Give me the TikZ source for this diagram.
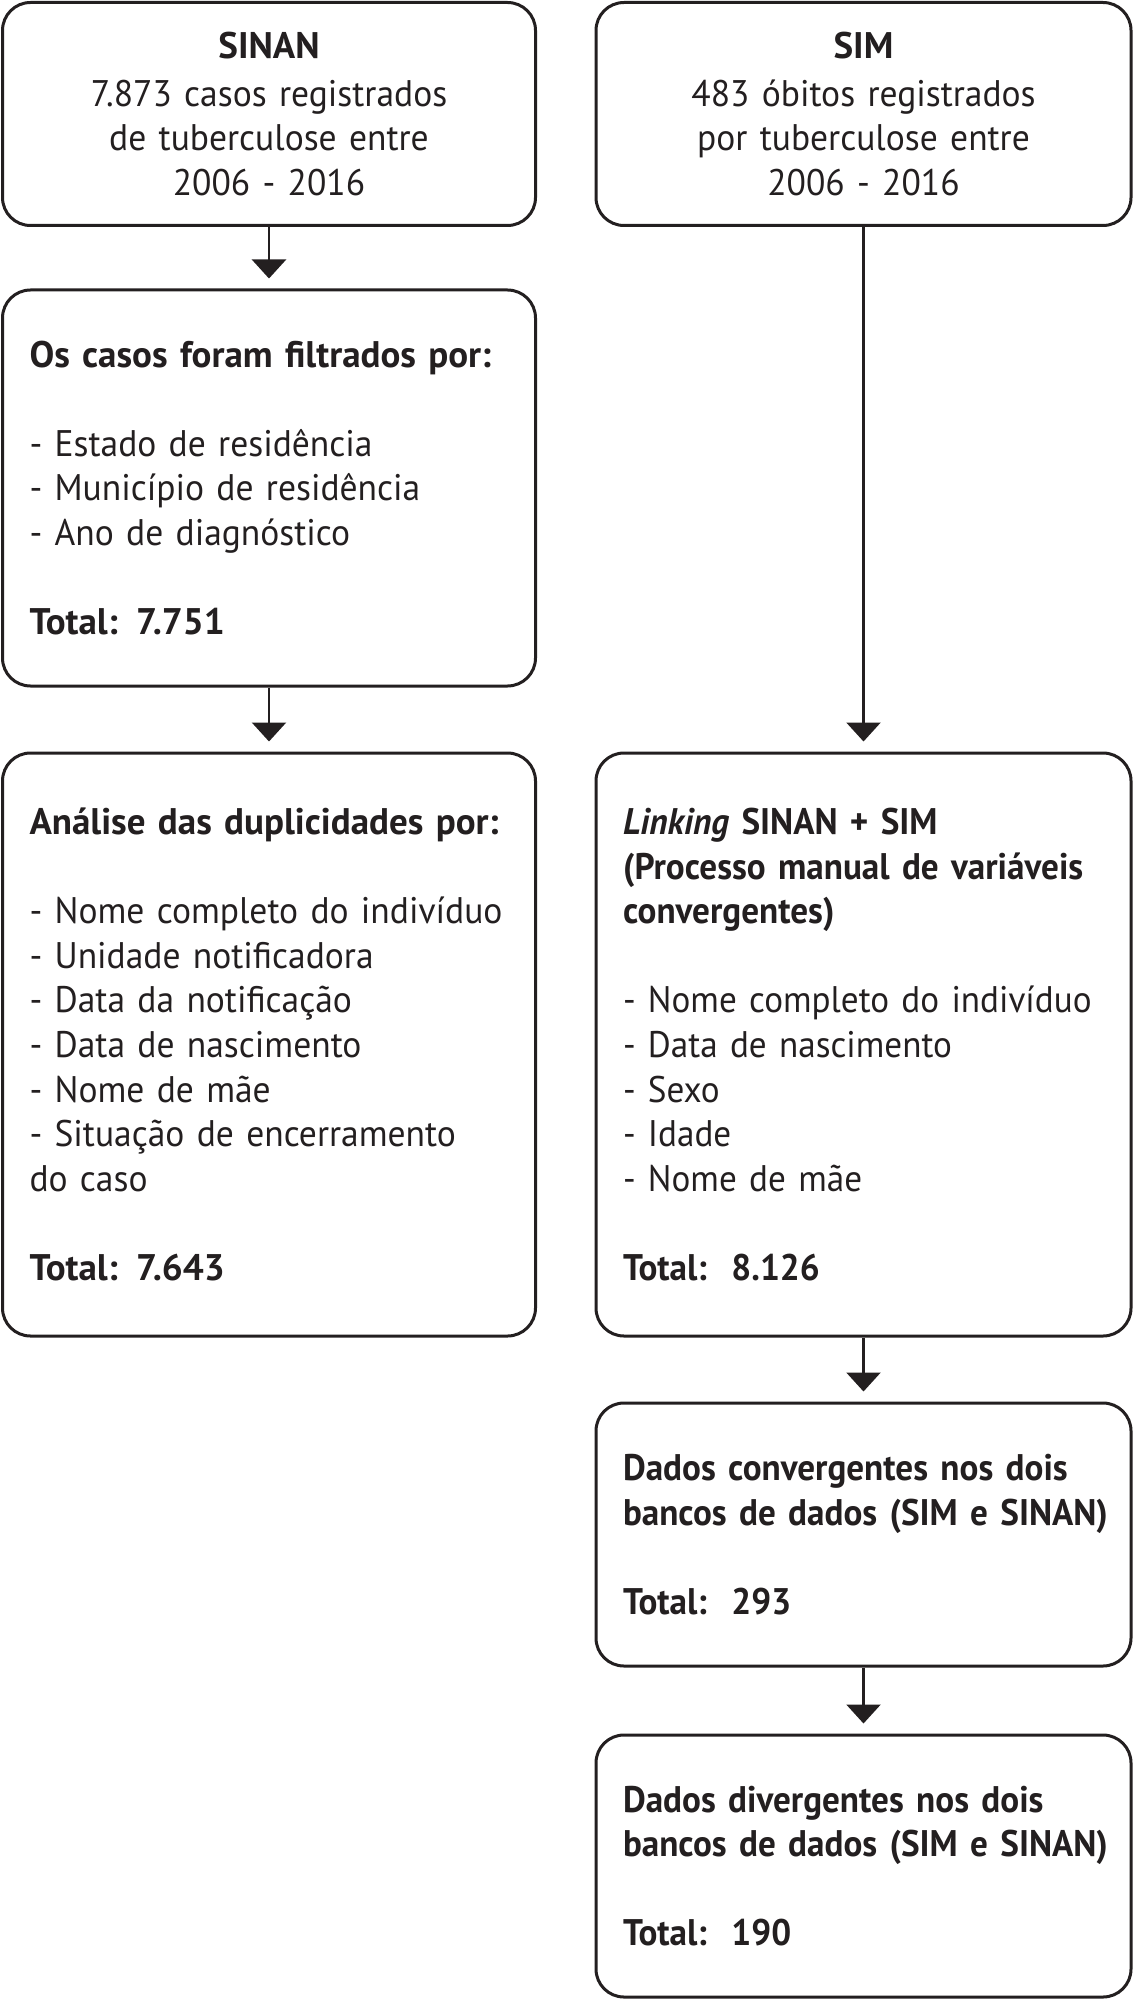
\documentclass[tikz,border=0pt]{standalone}
\usepackage{fontspec}
\setmainfont{PT Sans}[UprightFeatures={FakeStretch=0.96},BoldFeatures={FakeStretch=1.0}]
\newfontfamily\tightfont{PT Sans}[FakeStretch=0.95]
\usetikzlibrary{arrows.meta}
\definecolor{ink}{RGB}{35,31,32}
\begin{document}
\begin{tikzpicture}[x=0.5pt,y=-0.5pt,
  box/.style={draw=ink, text=ink, line width=1.5pt, rounded corners=14pt,
    inner xsep=13.5pt, inner ysep=0pt,
    font=\fontsize{18.5}{22.3}\selectfont},
  lbox/.style={box, text width=239.5pt, align=left},
  rbox/.style={box, text width=240.5pt, align=left,
    font=\tightfont\fontsize{18.5}{22.3}\selectfont},
  cbox/.style={box, text width=239.5pt, align=center},
  arr/.style={draw=ink, line width=1.2pt, shorten >=5pt,
    -{Triangle[width=17pt,length=9.5pt]}}
]
\useasboundingbox (0,0) rectangle (1133,2000);

\node[cbox, minimum height=111.5pt] (sinan) at (269,114)
  {\textbf{SINAN}\\[1.7pt]7.873 casos registrados\\de tuberculose entre\\2006 - 2016};
\node[cbox, text width=240.5pt, minimum height=111.5pt] (sim) at (863.5,114)
  {\textbf{SIM}\\[1.7pt]483 óbitos registrados\\por tuberculose entre\\2006 - 2016};

\node[lbox, minimum height=198pt] (filt) at (269,488)
  {\textbf{Os casos foram filtrados por:}\\[22.3pt]
   - Estado de residência\\- Município de residência\\- Ano de diagnóstico\\[22.3pt]
   \textbf{Total: 7.751}};

\node[lbox, minimum height=291.5pt] (dup) at (269,1044.5)
  {\mbox{\textbf{Análise das duplicidades por:}}\\[22.3pt]
   \mbox{- Nome completo do indivíduo}\\- Unidade notificadora\\- Data da notificação\\
   - Data de nascimento\\- Nome de mãe\\\mbox{- Situação de encerramento}\\do caso\\[22.3pt]
   \textbf{Total: 7.643}};

\node[rbox, minimum height=291.5pt] (link) at (863.5,1044.5)
  {\mbox{\textbf{\textit{Linking} SINAN + SIM}}\\\mbox{\textbf{(Processo manual de variáveis}}\\\textbf{convergentes)}\\[22.3pt]
   \mbox{- Nome completo do indivíduo}\\- Data de nascimento\\- Sexo\\- Idade\\- Nome de mãe\\[22.3pt]
   \textbf{Total:\ \ 8.126}};

\node[rbox, minimum height=131.5pt] (conv) at (863.5,1534.5)
  {\mbox{\textbf{Dados convergentes nos dois}}\\\mbox{\textbf{bancos de dados (SIM e SINAN)}}\\[22.3pt]
   \textbf{Total:\ \ 293}};

\node[rbox, minimum height=131pt] (div) at (863.5,1866)
  {\mbox{\textbf{Dados divergentes nos dois}}\\\mbox{\textbf{bancos de dados (SIM e SINAN)}}\\[22.3pt]
   \textbf{Total:\ \ 190}};

\draw[arr] (sinan.south) -- (filt.north);
\draw[arr] (filt.south) -- (dup.north);
\draw[arr] (sim.south) -- (link.north);
\draw[arr] (link.south) -- (conv.north);
\draw[arr] (conv.south) -- (div.north);
\end{tikzpicture}
\end{document}
